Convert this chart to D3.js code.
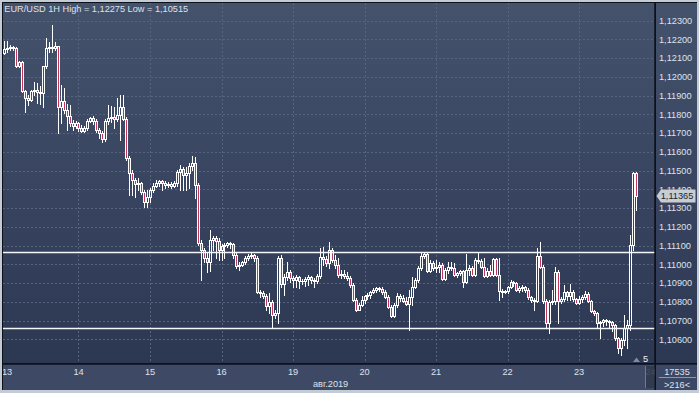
<!DOCTYPE html>
<html><head><meta charset="utf-8">
<script src="https://cdn.jsdelivr.net/npm/d3@7"></script>
<style>html,body{margin:0;padding:0;background:#3b4762;overflow:hidden}</style>
</head><body>
<svg id="c" width="699" height="393"></svg>
<script>
// ---------------- DATA ----------------
const title = "EUR/USD 1H High = 1,12275 Low = 1,10515";
const dayLabels = ["13","14","15","16","19","20","21","22","23","24"];
const dayHours  = [0,24,48,72,96,120,144,168,192,216]; // trading-hour offset of each day's 00:00
const monthLabel = "авг.2019";
const priceTicks = [1.106,1.107,1.108,1.109,1.110,1.111,1.112,1.113,1.114,1.115,1.116,1.117,1.118,1.119,1.120,1.121,1.122,1.123];
const levels = [1.11065, 1.10660];
const lastPrice = 1.11365;
const infoTop = "17535", infoBottom = ">216<", barNote = "5";
const firstHour = -1;          // first candle = 12 Aug 23:00
const firstOpen = 1.12127;
const closes = [
1.12149,1.12154,1.12159,1.12154,1.12058,1.12079,1.11924,1.11887,1.11876,1.11924,1.11930,1.11919,
1.11914,1.12058,1.12154,1.12159,1.12154,1.12165,1.11839,1.11871,1.11823,1.11791,1.11754,1.11738,
1.11754,1.11727,1.11711,1.11727,1.11764,1.11780,1.11764,1.11716,1.11700,1.11668,1.11764,1.11780,
1.11786,1.11775,1.11796,1.11839,1.11775,1.11567,1.11487,1.11450,1.11428,1.11434,1.11386,1.11332,
1.11359,1.11396,1.11418,1.11434,1.11444,1.11434,1.11423,1.11428,1.11418,1.11434,1.11492,1.11508,
1.11476,1.11487,1.11524,1.11540,1.11423,1.11113,1.11076,1.11033,1.11012,1.11129,1.11140,1.11124,
1.11076,1.11097,1.11103,1.11113,1.11108,1.11049,1.10991,1.10996,1.11012,1.11033,1.11044,1.11049,
1.11033,1.10852,1.10847,1.10831,1.10777,1.10799,1.10729,1.10740,1.11033,1.10895,1.10932,1.10959,
1.10927,1.10916,1.10932,1.10911,1.10911,1.10921,1.10932,1.10916,1.10911,1.10937,1.11039,1.11028,
1.11007,1.11076,1.11023,1.10996,1.10943,1.10948,1.10937,1.10927,1.10889,1.10809,1.10756,1.10783,
1.10809,1.10831,1.10836,1.10852,1.10863,1.10873,1.10868,1.10852,1.10825,1.10772,1.10724,1.10783,
1.10831,1.10820,1.10804,1.10788,1.10825,1.10879,1.10916,1.10980,1.11044,1.11055,1.10964,1.11007,
1.10980,1.10985,1.10996,1.10921,1.10969,1.10985,1.10980,1.10943,1.10953,1.10964,1.10905,1.10969,
1.10980,1.10943,1.11023,1.11017,1.10985,1.10937,1.10964,1.10943,1.11028,1.10943,1.10857,1.10852,
1.10857,1.10879,1.10905,1.10900,1.10863,1.10873,1.10879,1.10863,1.10825,1.10809,1.10804,1.11044,
1.10985,1.10804,1.10687,1.10799,1.10804,1.10959,1.10804,1.10815,1.10852,1.10831,1.10852,1.10815,
1.10793,1.10815,1.10825,1.10841,1.10804,1.10751,1.10740,1.10687,1.10692,1.10703,1.10697,1.10692,
1.10676,1.10606,1.10553,1.10596,1.10660,1.10676,1.11103,1.11487,1.11365];
const highs = [
1.12191,1.12191,1.12170,1.12165,1.12159,1.12085,1.12085,1.11930,1.11903,1.11930,1.11972,1.11967,
1.11951,1.12058,1.12207,1.12186,1.12275,1.12186,1.12165,1.11956,1.11940,1.11855,1.11850,1.11770,
1.11764,1.11759,1.11743,1.11738,1.11775,1.11786,1.11791,1.11775,1.11727,1.11711,1.11775,1.11850,
1.11844,1.11839,1.11887,1.11903,1.11903,1.11786,1.11578,1.11503,1.11460,1.11460,1.11439,1.11396,
1.11396,1.11407,1.11434,1.11450,1.11450,1.11450,1.11444,1.11439,1.11439,1.11444,1.11503,1.11530,
1.11519,1.11519,1.11540,1.11578,1.11572,1.11434,1.11129,1.11087,1.11065,1.11183,1.11151,1.11151,
1.11140,1.11108,1.11113,1.11119,1.11119,1.11113,1.11060,1.11012,1.11017,1.11044,1.11055,1.11060,
1.11055,1.11044,1.10863,1.10857,1.10841,1.10847,1.10809,1.10756,1.11044,1.11049,1.10948,1.11012,
1.10969,1.10937,1.10943,1.10937,1.10921,1.10932,1.10943,1.10937,1.10927,1.10948,1.11087,1.11092,
1.11044,1.11119,1.11087,1.11049,1.11033,1.10969,1.10969,1.10959,1.10937,1.10900,1.10820,1.10793,
1.10831,1.10836,1.10847,1.10857,1.10873,1.10879,1.10879,1.10879,1.10863,1.10836,1.10783,1.10793,
1.10847,1.10841,1.10836,1.10825,1.10863,1.10932,1.10927,1.10991,1.11060,1.11065,1.11060,1.11023,
1.11017,1.11023,1.11012,1.11007,1.10980,1.11012,1.11012,1.11007,1.10959,1.10969,1.10969,1.11055,
1.10996,1.10991,1.11033,1.11060,1.11028,1.11033,1.10980,1.10996,1.11033,1.11033,1.11033,1.10868,
1.10863,1.10884,1.10916,1.10911,1.10905,1.10884,1.10889,1.10884,1.10873,1.10831,1.10820,1.11087,
1.11119,1.10996,1.10815,1.10809,1.10863,1.10985,1.10969,1.10825,1.10889,1.10857,1.10895,1.10863,
1.10820,1.10831,1.10836,1.10857,1.10852,1.10809,1.10756,1.10745,1.10697,1.10708,1.10708,1.10703,
1.10697,1.10681,1.10612,1.10606,1.10729,1.10703,1.11156,1.11492,1.11492];
const lows = [
1.12122,1.12133,1.12143,1.12143,1.12052,1.12052,1.11919,1.11812,1.11850,1.11871,1.11903,1.11860,
1.11855,1.11839,1.12047,1.12133,1.12133,1.12143,1.11700,1.11754,1.11807,1.11716,1.11738,1.11716,
1.11727,1.11711,1.11706,1.11706,1.11716,1.11759,1.11748,1.11706,1.11674,1.11652,1.11658,1.11748,
1.11759,1.11727,1.11764,1.11663,1.11770,1.11556,1.11370,1.11370,1.11359,1.11396,1.11375,1.11305,
1.11305,1.11332,1.11386,1.11412,1.11418,1.11396,1.11407,1.11412,1.11407,1.11412,1.11418,1.11396,
1.11396,1.11396,1.11407,1.11503,1.11353,1.11103,1.10916,1.11012,1.10959,1.10964,1.11076,1.11033,
1.11023,1.11023,1.11033,1.11092,1.11087,1.11033,1.10980,1.10969,1.10991,1.11001,1.11023,1.11033,
1.11017,1.10847,1.10825,1.10820,1.10756,1.10740,1.10660,1.10713,1.10687,1.10879,1.10836,1.10916,
1.10905,1.10879,1.10879,1.10873,1.10895,1.10884,1.10889,1.10900,1.10879,1.10900,1.10927,1.10996,
1.10991,1.10980,1.11012,1.10980,1.10932,1.10927,1.10927,1.10916,1.10879,1.10804,1.10751,1.10756,
1.10777,1.10793,1.10815,1.10820,1.10847,1.10852,1.10857,1.10841,1.10820,1.10767,1.10719,1.10719,
1.10772,1.10804,1.10799,1.10783,1.10649,1.10783,1.10873,1.10905,1.10969,1.11033,1.10959,1.10959,
1.10969,1.10959,1.10959,1.10916,1.10916,1.10953,1.10969,1.10937,1.10932,1.10943,1.10879,1.10900,
1.10943,1.10937,1.10937,1.11007,1.10980,1.10932,1.10932,1.10937,1.10937,1.10937,1.10809,1.10825,
1.10847,1.10847,1.10873,1.10884,1.10857,1.10852,1.10857,1.10852,1.10815,1.10799,1.10756,1.10799,
1.10980,1.10793,1.10665,1.10633,1.10788,1.10788,1.10687,1.10793,1.10804,1.10809,1.10809,1.10804,
1.10788,1.10788,1.10799,1.10815,1.10799,1.10745,1.10729,1.10665,1.10606,1.10671,1.10676,1.10660,
1.10644,1.10596,1.10526,1.10515,1.10569,1.10553,1.10649,1.11076,1.11289];

// ---------------- RENDER ----------------
const FONT = "'Liberation Sans', Arial, sans-serif";
const FS = "9.2px";
const TXT = "#dde3ec";
const svg = d3.select("#c");
const P = {l:3, t:3, r:654.5, b:363};

const x = d3.scaleLinear().domain([-1.34, 217.5]).range([3, 655]);
const y = d3.scaleLinear().domain([1.106, 1.123]).range([339.3, 20.7]);

const candles = closes.map((c,i)=>{
  const o = i ? closes[i-1] : firstOpen;
  return {h: firstHour + i, o, c, hi: Math.max(highs[i], o, c), lo: Math.min(lows[i], o, c)};
});

const defs = svg.append("defs");
const gr = defs.append("linearGradient").attr("id","bg").attr("x1",0).attr("y1",0).attr("x2",0).attr("y2",1);
gr.append("stop").attr("offset","0%").attr("stop-color","#44526c");
gr.append("stop").attr("offset","55%").attr("stop-color","#38445f");
gr.append("stop").attr("offset","100%").attr("stop-color","#2c3752");
defs.append("clipPath").attr("id","clip").append("rect")
  .attr("x",P.l).attr("y",P.t).attr("width",P.r-P.l).attr("height",P.b-P.t);
defs.append("clipPath").attr("id","clipAx").append("rect")
  .attr("x",3).attr("y",364).attr("width",652).attr("height",26);

// frame
svg.append("rect").attr("width",699).attr("height",393).attr("fill","#c3cbd6");
svg.append("rect").attr("x",2).attr("y",2).attr("width",695).attr("height",388).attr("fill","#0d1118");
svg.append("rect").attr("x",P.l).attr("y",P.t).attr("width",P.r-P.l).attr("height",P.b-P.t).attr("fill","url(#bg)");
svg.append("rect").attr("x",656).attr("y",3).attr("width",41).attr("height",360).attr("fill","url(#bg)");
svg.append("rect").attr("x",3).attr("y",364.5).attr("width",694).attr("height",25.5).attr("fill","#3d4965");
svg.append("rect").attr("x",656).attr("y",364.5).attr("width",41).attr("height",25.5).attr("fill","#3b4763");

// grid
const grid = svg.append("g").attr("stroke","#56647f").attr("stroke-dasharray","2,2").attr("shape-rendering","crispEdges");
priceTicks.forEach(p=>{
  const yy = Math.round(y(p))+0.5;
  grid.append("line").attr("x1",P.l).attr("x2",P.r).attr("y1",yy).attr("y2",yy);
});
dayHours.forEach((h,i)=>{
  if (i===0 || i===dayHours.length-1) return;
  const xx = Math.round(x(h))+0.5;
  grid.append("line").attr("x1",xx).attr("x2",xx).attr("y1",P.t).attr("y2",P.b);
});

// candles
const cg = svg.append("g").attr("clip-path","url(#clip)").attr("shape-rendering","crispEdges");
candles.forEach(d=>{
  const cx = Math.round(x(d.h));
  const yo=y(d.o), yc=y(d.c);
  const top=Math.round(Math.min(yo,yc)), bot=Math.round(Math.max(yo,yc));
  const yh=Math.round(y(d.hi)), yl=Math.round(y(d.lo));
  const bear = d.c < d.o;
  if (yh < top) cg.append("line").attr("x1",cx+0.5).attr("x2",cx+0.5).attr("y1",yh).attr("y2",top).attr("stroke","#fff");
  if (yl > bot) cg.append("line").attr("x1",cx+0.5).attr("x2",cx+0.5).attr("y1",bot+1).attr("y2",yl+1).attr("stroke","#fff");
  if (bot - top < 1) {
    cg.append("rect").attr("x",cx-1).attr("y",top).attr("width",3).attr("height",1).attr("fill","#fff");
  } else {
    cg.append("rect").attr("x",cx-0.5).attr("y",top+0.5).attr("width",2).attr("height",bot-top)
      .attr("fill", bear ? "#c2365b" : "none").attr("stroke","#fff").attr("stroke-width",1);
  }
});

// horizontal levels
levels.forEach(p=>{
  const yy = Math.round(y(p))+0.5;
  svg.append("line").attr("x1",P.l).attr("x2",P.r).attr("y1",yy).attr("y2",yy)
    .attr("stroke","#f4f6fa").attr("stroke-width",1.3);
});

// price axis labels
const ay = svg.append("g").attr("font-family",FONT).attr("font-size",FS).attr("fill",TXT);
priceTicks.forEach(p=>{
  ay.append("text").attr("x",659).attr("y",y(p)).attr("dy","0.35em")
    .text(p.toFixed(5).replace(".",","));
});

// last price tag
const ty = y(lastPrice);
svg.append("path").attr("d",`M656.5,${ty} L661,${ty-6.5} L695.5,${ty-6.5} L695.5,${ty+6.5} L661,${ty+6.5} Z`)
  .attr("fill","#c8ccd3");
svg.append("text").attr("x",677).attr("y",ty).attr("dy","0.35em").attr("text-anchor","middle")
  .attr("font-family",FONT).attr("font-size",FS).attr("fill","#1b1f27").text(lastPrice.toFixed(5).replace(".",","));

// time axis labels
const ax = svg.append("g").attr("font-family",FONT).attr("font-size",FS).attr("fill",TXT).attr("clip-path","url(#clipAx)");
dayHours.forEach((h,i)=>{
  ax.append("text").attr("x",x(h)).attr("y",375).attr("text-anchor","middle")
    .attr("fill", i===dayHours.length-1 ? "#8e97a8" : TXT).text(dayLabels[i]);
});
svg.append("text").attr("x",313).attr("y",386.5).attr("font-family",FONT).attr("font-size",FS).attr("fill",TXT).text(monthLabel);

// scroll marker near the right end
svg.append("rect").attr("x",645).attr("y",366).attr("width",9.5).attr("height",22).attr("fill","#2c3549").attr("opacity",0.75);
svg.append("line").attr("x1",645.5).attr("x2",645.5).attr("y1",366).attr("y2",388).attr("stroke","#6f7a8e");

// small marker "5"
svg.append("path").attr("d","M633,362 L640,362 L636.5,357.5 Z").attr("fill","#7f8aa0");
svg.append("text").attr("x",643).attr("y",362).attr("font-family",FONT).attr("font-size",FS).attr("fill","#eef1f5").text(barNote);

// title
svg.append("text").attr("x",4.3).attr("y",11.5).attr("font-family",FONT).attr("font-size",FS).attr("fill",TXT).text(title);

// axis separator lines
svg.append("line").attr("x1",2).attr("x2",697).attr("y1",363.75).attr("y2",363.75).attr("stroke","#0d1118").attr("stroke-width",1.5);
svg.append("line").attr("x1",655.25).attr("x2",655.25).attr("y1",2).attr("y2",390).attr("stroke","#0d1118").attr("stroke-width",1.5);

// info box bottom right
svg.append("text").attr("x",677).attr("y",374.5).attr("text-anchor","middle").attr("font-family",FONT).attr("font-size",FS).attr("fill",TXT).text(infoTop);
svg.append("line").attr("x1",659).attr("x2",696).attr("y1",377.5).attr("y2",377.5).attr("stroke","#8d97a8");
svg.append("text").attr("x",677).attr("y",387.5).attr("text-anchor","middle").attr("font-family",FONT).attr("font-size",FS).attr("fill",TXT).text(infoBottom);
</script>
</body></html>
